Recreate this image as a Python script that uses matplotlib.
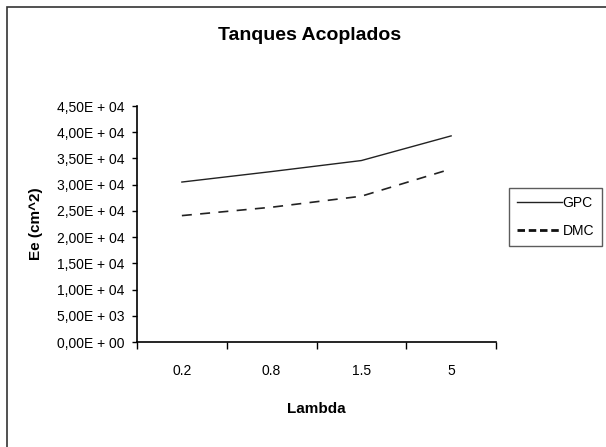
import numpy as np
import matplotlib
matplotlib.use('Agg')
import matplotlib.pyplot as plt
from matplotlib.patches import Rectangle
from matplotlib.lines import Line2D
from matplotlib.ticker import FixedLocator, FuncFormatter

plt.rcParams['font.family'] = ['Liberation Sans', 'DejaVu Sans']

lambdas = ['0.2', '0.8', '1.5', '5']
gpc = [30500, 32500, 34600, 39300]
dmc = [24100, 25700, 27800, 33000]
yticks = np.arange(0, 45001, 5000)

def sci_comma(v, pos):
    s = '%.2E' % v
    mant, exp = s.split('E')
    return mant.replace('.', ',') + 'E ' + exp[0] + ' ' + exp[1:].rjust(2, '0')

fig = plt.figure(figsize=(6.06, 4.47), dpi=100)
ax = fig.add_axes([137/606, 1-342/447, (496-137)/606, (342-106)/447])

x = np.arange(len(lambdas))
ax.plot(x, gpc, color='#222222', lw=1.0)
ax.plot(x, dmc, color='#222222', lw=1.2, dashes=(6, 5))

ax.set_xlim(-0.5, len(lambdas)-0.5)
ax.set_ylim(0, 45000)
ax.set_yticks(yticks)
ax.yaxis.set_major_formatter(FuncFormatter(sci_comma))
ax.set_xticks(x)
ax.set_xticklabels(lambdas)
ax.xaxis.set_minor_locator(FixedLocator(np.arange(-0.5, len(lambdas), 1.0)))
ax.tick_params(axis='x', which='major', length=0, pad=16, labelsize=10)
ax.tick_params(axis='x', which='minor', length=5, width=1, direction='out')
ax.tick_params(axis='y', length=3.6, width=1, labelsize=10, pad=5.5)

for s in ['top', 'right']:
    ax.spines[s].set_visible(False)
for s in ['left', 'bottom']:
    ax.spines[s].set_linewidth(1.2)

ax.set_xlabel('Lambda', fontsize=11, fontweight='bold')
ax.xaxis.set_label_coords(0.5, -0.255)
ax.set_ylabel('Ee (cm^2)', fontsize=11, fontweight='bold')
ax.yaxis.set_label_coords(-0.262, 0.5)
fig.text(310/606, 1-35/447, 'Tanques Acoplados', fontsize=14, fontweight='bold',
         ha='center', va='center')

fig.patches.append(Rectangle((7/606, -0.02), 1.0, 1-7/447+0.02, transform=fig.transFigure,
                             fill=False, edgecolor='#333333', lw=1.2))

handles = [Line2D([], [], color='#222222', lw=1.0),
           Line2D([], [], color='#111111', lw=2.0, dashes=(2.7, 1.35))]
leg = fig.legend(handles, ['GPC', 'DMC'], loc='upper left', bbox_to_anchor=(509/606, 1-188/447),
                 fontsize=10, frameon=True, fancybox=False, handlelength=3.2,
                 handletextpad=0.05, borderpad=0.6, labelspacing=0.95, borderaxespad=0)
leg.get_frame().set_edgecolor('#333333')
leg.get_frame().set_linewidth(1.0)

fig.savefig('out.png', dpi=100)
